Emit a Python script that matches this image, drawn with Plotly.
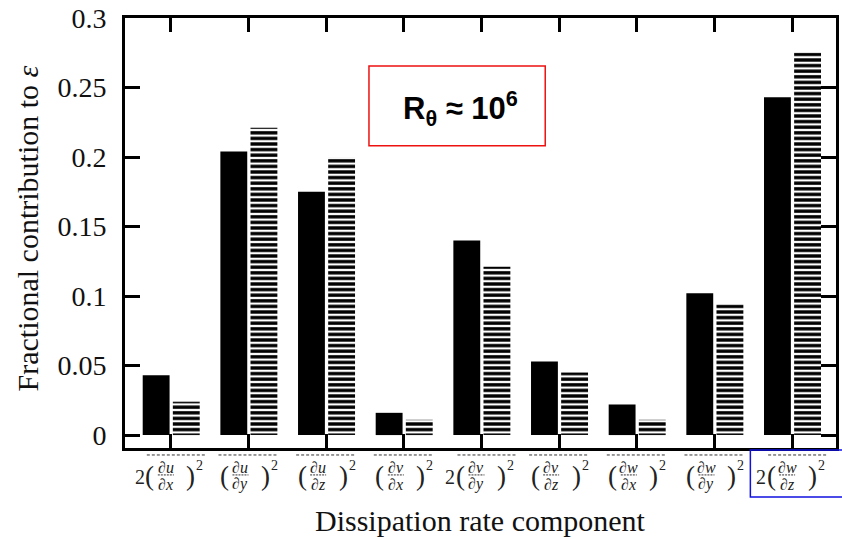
import plotly.graph_objects as go

# ---- data ----
components = ["2(du/dx)^2", "(du/dy)^2", "(du/dz)^2", "(dv/dx)^2", "2(dv/dy)^2",
              "(dv/dz)^2", "(dw/dx)^2", "(dw/dy)^2", "2(dw/dz)^2"]
prefix = ["2", "", "", "", "2", "", "", "", "2"]
numer_var = ["u", "u", "u", "v", "v", "v", "w", "w", "w"]
denom_var = ["x", "y", "z", "x", "y", "z", "x", "y", "z"]
solid_vals = [0.043, 0.204, 0.175, 0.016, 0.140, 0.053, 0.022, 0.102, 0.243]
hatched_vals = [0.024, 0.221, 0.200, 0.011, 0.121, 0.045, 0.011, 0.094, 0.275]
ytick_vals = [0, 0.05, 0.1, 0.15, 0.2, 0.25, 0.3]
ytick_text = ["0", "0.05", "0.1", "0.15", "0.2", "0.25", "0.3"]

xpos = list(range(len(components)))

W, H = 842, 539
ML, MR, MT, MB = 125, 3, 17, 91
PH = H - MT - MB  # plot height in px
SERIF = "Liberation Serif"


def py(px):
    """convert a pixel row (from top of page) to paper y"""
    return (H - MB - px) / PH


fig = go.Figure()
fig.add_trace(go.Bar(x=xpos, y=solid_vals, width=0.346, offset=-0.362,
                     marker=dict(color="black", line=dict(width=0)),
                     showlegend=False))
fig.add_trace(go.Bar(x=xpos, y=hatched_vals, width=0.346, offset=0.026,
                     marker=dict(color="white", line=dict(width=0),
                                 pattern=dict(shape="-", fgcolor="black", bgcolor="white",
                                              size=5.6, solidity=0.6, fillmode="replace")),
                     showlegend=False))

annotations = []
shapes = []
for i in xpos:
    has2 = prefix[i] == "2"
    F = -5 if has2 else -8
    # numerator / denominator
    annotations.append(dict(x=i, xref="x", y=0, yref="paper", yshift=H - MB - 467,
                            xshift=F, text="∂<i>%s</i>" % numer_var[i], showarrow=False,
                            font=dict(family=SERIF, size=16, color="#222"),
                            xanchor="center", yanchor="middle"))
    annotations.append(dict(x=i, xref="x", y=0, yref="paper", yshift=H - MB - 484,
                            xshift=F, text="∂<i>%s</i>" % denom_var[i], showarrow=False,
                            font=dict(family=SERIF, size=16, color="#222"),
                            xanchor="center", yanchor="middle"))
    # parentheses
    annotations.append(dict(x=i, xref="x", y=0, yref="paper", yshift=H - MB - 476,
                            xshift=F - 16, text="(", showarrow=False,
                            font=dict(family=SERIF, size=27, color="#222"),
                            xanchor="center", yanchor="middle"))
    annotations.append(dict(x=i, xref="x", y=0, yref="paper", yshift=H - MB - 476,
                            xshift=F + 25, text=")", showarrow=False,
                            font=dict(family=SERIF, size=27, color="#222"),
                            xanchor="center", yanchor="middle"))
    annotations.append(dict(x=i, xref="x", y=0, yref="paper", yshift=H - MB - 465,
                            xshift=F + 34, text="2", showarrow=False,
                            font=dict(family=SERIF, size=14, color="#222"),
                            xanchor="center", yanchor="middle"))
    if has2:
        annotations.append(dict(x=i, xref="x", y=0, yref="paper", yshift=H - MB - 477,
                                xshift=F - 26, text="2", showarrow=False,
                                font=dict(family=SERIF, size=20, color="#222"),
                                xanchor="center", yanchor="middle"))
    # fraction bar (dashed)
    shapes.append(dict(type="line", xref="x", yref="paper", xsizemode="pixel", xanchor=i,
                       x0=F - 8, x1=F + 8, y0=py(475), y1=py(475),
                       line=dict(color="#333", width=1, dash="2px,1px")))
    # dashed line above label
    c = 5 if has2 else -1
    shapes.append(dict(type="line", xref="x", yref="paper", xsizemode="pixel", xanchor=i,
                       x0=c - 29, x1=c + 29, y0=py(455), y1=py(455),
                       line=dict(color="#333", width=1, dash="3px,2px")))

# highlight box around last label
shapes.append(dict(type="rect", xref="paper", yref="paper",
                   x0=(753 - ML) / (W - ML - MR), x1=(846 - ML) / (W - ML - MR),
                   y0=py(497), y1=py(450), line=dict(color="#1010e0", width=1.5)))
# red box
shapes.append(dict(type="rect", xref="paper", yref="paper",
                   x0=(370 - ML) / (W - ML - MR), x1=(547 - ML) / (W - ML - MR),
                   y0=py(145), y1=py(65), line=dict(color="#ee1111", width=1.5)))

annotations.append(dict(x=(462 - ML) / (W - ML - MR), xref="paper", y=py(108), yref="paper",
                        text="<b>R<sub>θ</sub> ≈ 10<sup>6</sup></b>", showarrow=False,
                        font=dict(family="Liberation Sans", size=31, color="black"),
                        xanchor="center", yanchor="middle"))
annotations.append(dict(x=0.5, xref="paper", y=0, yref="paper", yshift=H - MB - 520,
                        text="Dissipation rate component", showarrow=False,
                        font=dict(family=SERIF, size=30, color="#111"),
                        xanchor="center", yanchor="middle"))
annotations.append(dict(x=0, xref="paper", xshift=28 - ML, y=py(228), yref="paper",
                        text="Fractional contribution to <i>ε</i>", showarrow=False,
                        textangle=-90,
                        font=dict(family=SERIF, size=30, color="#111"),
                        xanchor="center", yanchor="middle"))

fig.update_layout(
    width=W, height=H,
    margin=dict(l=ML, r=MR, t=MT, b=MB),
    plot_bgcolor="white", paper_bgcolor="white",
    barmode="overlay",
    annotations=annotations, shapes=shapes,
    xaxis=dict(range=[-0.59, 8.565], tickvals=xpos, showticklabels=False,
               ticks="inside", ticklen=14, tickwidth=2.5, tickcolor="black",
               showline=True, linewidth=3, linecolor="black", mirror="ticks",
               showgrid=False, zeroline=False),
    yaxis=dict(range=[-0.0093, 0.3], tickvals=ytick_vals, ticktext=ytick_text,
               ticks="inside", ticklen=15, tickwidth=2.5, tickcolor="black",
               showline=True, linewidth=3, linecolor="black", mirror="ticks",
               showgrid=False, zeroline=False, ticklabelstandoff=10,
               tickfont=dict(family=SERIF, size=28, color="#111")),
)

fig.write_html("out.html")
